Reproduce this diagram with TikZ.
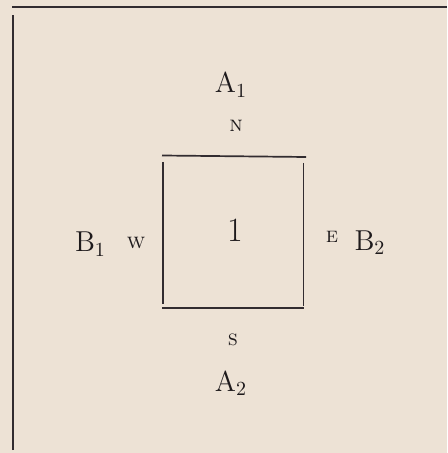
\documentclass[tikz,border=0pt]{standalone}
\usepackage{tikz}
\definecolor{paper}{RGB}{237,226,213}
\definecolor{ink}{RGB}{50,44,48}
\definecolor{type}{RGB}{30,26,28}

\begin{document}
\begin{tikzpicture}[x=0.5pt,y=-0.5pt,
rule/.style={ink,line width=1pt},
side/.style={ink,line width=0.85pt},
letter/.style={text=type,font=\fontsize{14.5}{17}\selectfont,anchor=base,inner sep=0pt},
pole/.style={text=type,font=\fontsize{11}{13}\selectfont\scshape,anchor=base,inner sep=0pt}]
\fill[paper] (0,0) rectangle (447,453);
\useasboundingbox (0,0) rectangle (447,453);
% Cornice
\coordinate (f1) at (13,450);
\coordinate (f2) at (13,15);
\coordinate (f3) at (12,7.5);
\coordinate (f4) at (447,7.5);
\draw[rule] (f1)--(f2);
\draw[rule] (f3)--(f4);
% Quadrato
\coordinate (q1) at (162,155.5);
\coordinate (q2) at (306,157);
\coordinate (q3) at (163,162);
\coordinate (q4) at (163,304);
\coordinate (q5) at (303.5,163);
\coordinate (q6) at (303.5,306);
\coordinate (q7) at (162,308);
\coordinate (q8) at (304,308);
\draw[side] (q1)--(q2);
\draw[side] (q3)--(q4);
\draw[side] (q5)--(q6);
\draw[side] (q7)--(q8);
\node[letter,font=\fontsize{17}{20}\selectfont] (uno) at (235,242) {1};
% Etichette
\node[letter] (a1) at (231,93) {$\mathrm{A}_1$};
\node[letter] (a2) at (231,391) {$\mathrm{A}_2$};
\node[letter] (b1) at (90.5,252) {$\mathrm{B}_1$};
\node[letter] (b2) at (370,250) {$\mathrm{B}_2$};
\node[pole] (n) at (236,132) {n};
\node[pole] (s) at (233,345) {s};
\node[pole] (w) at (136,249) {w};
\node[pole] (e) at (332,243) {e};
\end{tikzpicture}
\end{document}
